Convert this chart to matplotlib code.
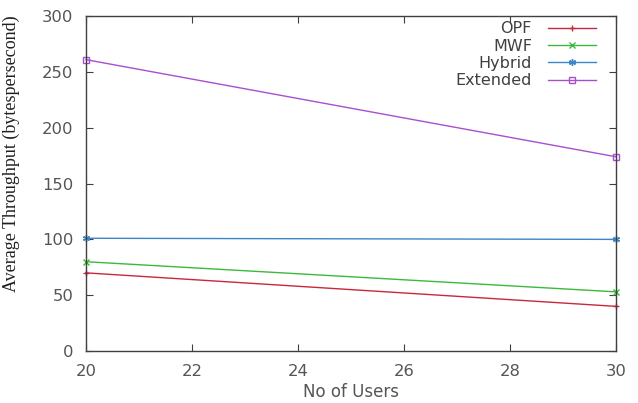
import matplotlib
matplotlib.use('Agg')
import matplotlib.pyplot as plt

# Data
users = [20, 30]
opf = [70, 40]
mwf = [80, 53]
hybrid = [101, 100]
extended = [261, 174]

series = [
    ('OPF', opf, '#c8283c', '+'),
    ('MWF', mwf, '#3cb83c', 'x'),
    ('Hybrid', hybrid, '#3a86c8', (6, 2, 0)),
    ('Extended', extended, '#a84fd0', 's'),
]

plt.rcParams['font.family'] = 'DejaVu Sans'
fig = plt.figure(figsize=(6.38, 4.03), dpi=100)
ax = fig.add_axes([0.1348, 0.129, 0.8307, 0.831])

for label, vals, color, marker in series:
    mfc = 'none' if marker == 's' else color
    ax.plot(users, vals, color=color, linewidth=1.0, marker=marker,
            markersize=5, markerfacecolor=mfc, markeredgewidth=1.0,
            label=label, clip_on=False)

ax.set_xlim(20, 30)
ax.set_ylim(0, 300)
ax.set_xticks(range(20, 31, 2))
ax.set_yticks(range(0, 301, 50))

ax.tick_params(direction='in', top=True, right=True, length=5,
               labelsize=11.8, labelcolor='#555555', color='#404040', pad=9)
for sp in ax.spines.values():
    sp.set_color('#404040')
    sp.set_linewidth(1.0)

ax.set_xlabel('No of Users', fontsize=12, color='#555555', labelpad=3)
ax.set_ylabel('Average Throughput (bytespersecond)', fontsize=13,
              family='Liberation Serif', color='#202020')
ax.yaxis.set_label_coords(-0.125, 0.588)

leg = ax.legend(loc='upper right', markerfirst=False, frameon=False,
                fontsize=11.5, handlelength=3.0, labelspacing=0.15,
                borderaxespad=0.0, borderpad=0.0, handletextpad=1.0,
                bbox_to_anchor=(0.962, 0.985))
for t in leg.get_texts():
    t.set_color('#404040')

plt.savefig('out.png', dpi=100)
